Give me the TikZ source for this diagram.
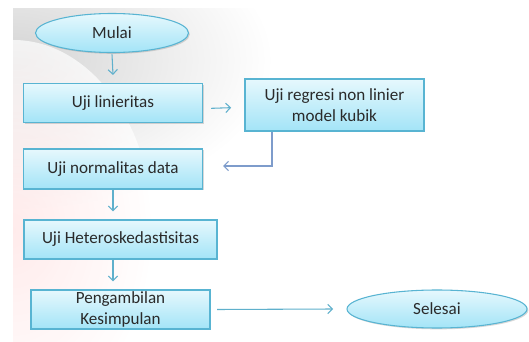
\documentclass[tikz,border=0pt]{standalone}
\usepackage{fontspec}
\setmainfont{Carlito}
\usetikzlibrary{shapes.geometric,shadows,arrows.meta}
\definecolor{boxtop}{HTML}{E6F8FD}
\definecolor{boxbot}{HTML}{A3E4F7}
\definecolor{boxline}{HTML}{58B4D2}
\definecolor{arrowc}{HTML}{5FB0CC}
\definecolor{arrowb}{HTML}{7E9CCB}
\definecolor{txt}{HTML}{2A2A2A}
\tikzset{
  stepbox/.style={draw=boxline, line width=0.8pt, top color=boxtop, bottom color=boxbot,
    minimum width=179*0.75pt, minimum height=39*0.75pt, inner sep=0pt, align=center,
    text=txt, font=\fontsize{12.8pt}{15.8pt}\selectfont,
    drop shadow={shadow xshift=1pt, shadow yshift=-1pt, opacity=0.25, fill=black!60}},
  termnode/.style={stepbox, ellipse},
  flowarrow/.style={draw=arrowc, line width=0.8pt, -{Straight Barb[length=3.5pt,width=7pt]}},
  backarrow/.style={draw=arrowb, line width=0.8pt, -{Straight Barb[length=3.5pt,width=7pt]}}
}
\begin{document}
\begin{tikzpicture}[x=0.75pt,y=-0.75pt]
\useasboundingbox (0,0) rectangle (529,342);
\fill[white] (0,0) rectangle (529,342);
% background panel
\begin{scope}
\clip (13,9) rectangle (529,342);
\shade[inner color=black!17, outer color=white] (13,60) ellipse [x radius=260, y radius=150];
\shade[inner color=red!11, outer color=white, opacity=0.7] (13,230) ellipse [x radius=140, y radius=190];
\end{scope}
% nodes
\node[termnode, minimum width=153*0.75pt, minimum height=39*0.75pt] (mulai) at (112,33) {Mulai};
\node[stepbox] (lin) at (113,103) {Uji linieritas};
\node[stepbox, minimum height=52*0.75pt] (reg) at (334.5,105) {Uji regresi non linier\\model kubik};
\node[stepbox, minimum height=40*0.75pt] (norm) at (113,169) {Uji normalitas data};
\node[stepbox, minimum width=193*0.75pt] (het) at (120.5,239.5) {Uji Heteroskedastisitas};
\node[stepbox] (kes) at (120.5,309.5) {Pengambilan\\Kesimpulan};
\node[termnode, minimum width=180*0.75pt, minimum height=38*0.75pt] (sel) at (437,309) {Selesai};
% connectors
\coordinate (c1) at (272,166);
\draw[flowarrow] ([yshift=-1pt]mulai.south) -- ([yshift=6pt]lin.north);
\draw[flowarrow] ([xshift=6pt,yshift=-4pt]lin.east) -- ([xshift=-10pt,yshift=-2pt]reg.west);
\draw[backarrow] (reg.south -| c1) -- (c1) -- ([xshift=15pt]c1 -| norm.east);
\draw[flowarrow] (norm.south) -- ([yshift=6pt]het.north -| norm.south);
\draw[flowarrow] (het.south -| norm.south) -- ([yshift=6pt]kes.north -| norm.south);
\draw[flowarrow] ([xshift=5pt]kes.east) -- ([xshift=-10pt]sel.west);
\end{tikzpicture}
\end{document}
